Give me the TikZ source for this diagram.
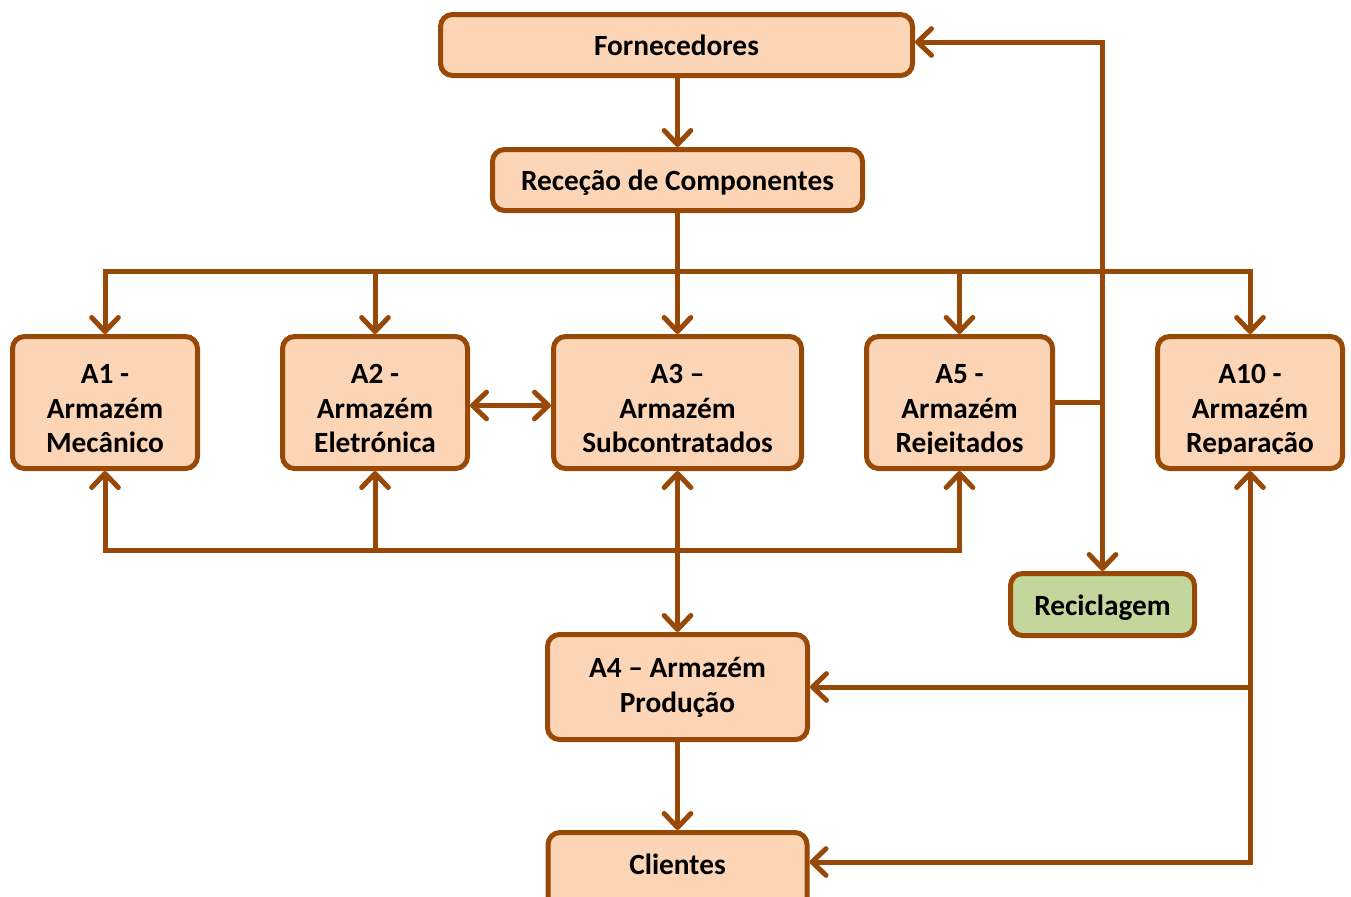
\documentclass[tikz,border=0pt]{standalone}
\usepackage{fontspec}
\setmainfont{Carlito}
\usetikzlibrary{arrows.meta}
\definecolor{edge}{HTML}{984807}
\definecolor{boxfill}{HTML}{FBD5B5}
\definecolor{greenfill}{HTML}{C3D69B}
\begin{document}
\begin{tikzpicture}[x=0.75pt,y=-0.75pt,
  box/.style={draw=edge, line width=3.75pt, fill=boxfill, rounded corners=9pt, inner sep=0pt},
  greenbox/.style={box, fill=greenfill},
  lbl/.style={anchor=base, inner sep=0pt, font=\fontsize{22pt}{26pt}\selectfont\bfseries},
  link/.style={draw=edge, line width=3.75pt},
  tip/.tip={Straight Barb[length=10.5pt,width=20pt,line cap=round,line join=round]},
  arr/.style={link, -tip},
  darr/.style={link, tip-tip},
]
\useasboundingbox (0,0) rectangle (1351,896);

% boxes
\node[box, minimum width=354pt, minimum height=45.75pt] (forn) at (676.5,45) {};
\node[box, minimum width=277.5pt, minimum height=45.75pt] (rec) at (677.5,180) {};
\node[box, minimum width=138.75pt, minimum height=99pt] (a1) at (105,402.5) {};
\node[box, minimum width=138.75pt, minimum height=99pt] (a2) at (375,402.5) {};
\node[box, minimum width=186pt, minimum height=99pt] (a3) at (677.5,402.5) {};
\node[box, minimum width=139.5pt, minimum height=99pt] (a5) at (959.5,402.5) {};
\node[box, minimum width=138.75pt, minimum height=99pt] (a10) at (1250,402.5) {};
\node[greenbox, minimum width=138pt, minimum height=46.5pt] (recic) at (1102.5,604.5) {};
\node[box, minimum width=195pt, minimum height=78.75pt] (a4) at (677.5,687) {};
% the client box runs past the lower edge of the page
\node[box, minimum width=194.25pt, minimum height=60pt] (cli) at (677.5,872.5) {};

% single-line labels
\node[lbl] (fornt) at (676.5,55) {Fornecedores};
\node[lbl] (rect) at (677.5,190) {Receção de Componentes};
\node[lbl] (recict) at (1102.5,615) {Reciclagem};
\node[lbl] (clit) at (677.5,874.5) {Clientes};
\node[lbl] (a4t1) at (677.5,677) {A4 – Armazém};
\node[lbl] (a4t2) at (677.5,712) {Produção};

% three-line labels, cut at the text frame of each box
\coordinate (cutline) at (0,453.5);
\begin{scope}
  \clip (a1.north west) rectangle (a1.east |- cutline);
  \node[lbl] (a1t1) at (105,383.5) {A1 -};
  \node[lbl] (a1t2) at (105,418) {Armazém};
  \node[lbl] (a1t3) at (105,452.5) {Mecânico};
\end{scope}
\begin{scope}
  \clip (a2.north west) rectangle (a2.east |- cutline);
  \node[lbl] (a2t1) at (375,383.5) {A2 -};
  \node[lbl] (a2t2) at (375,418) {Armazém};
  \node[lbl] (a2t3) at (375,452.5) {Eletrónica};
\end{scope}
\begin{scope}
  \clip (a3.north west) rectangle (a3.east |- cutline);
  \node[lbl] (a3t1) at (677.5,383.5) {A3 –};
  \node[lbl] (a3t2) at (677.5,418) {Armazém};
  \node[lbl] (a3t3) at (677.5,452.5) {Subcontratados};
\end{scope}
\begin{scope}
  \clip (a5.north west) rectangle (a5.east |- cutline);
  \node[lbl] (a5t1) at (959.5,383.5) {A5 -};
  \node[lbl] (a5t2) at (959.5,418) {Armazém};
  \node[lbl] (a5t3) at (959.5,452.5) {Rejeitados};
\end{scope}
\begin{scope}
  \clip (a10.north west) rectangle (a10.east |- cutline);
  \node[lbl] (a10t1) at (1250,383.5) {A10 -};
  \node[lbl] (a10t2) at (1250,418) {Armazém};
  \node[lbl] (a10t3) at (1250,452.5) {Reparação};
\end{scope}

% connectors
\coordinate (busT) at (677.5,271);
\coordinate (busB) at (677.5,550);
\coordinate (rc) at (1102,42);
\coordinate (rb) at (1248,862);

\draw[arr] (forn.south -| rec.north) -- (rec.north);
\draw[arr] (rec.south) -- (a3.north);
\draw[arr] (busT) -| (a1.north);
\draw[arr] (busT) -| (a10.north);
\draw[arr] (a2.north |- busT) -- (a2.north);
\draw[arr] (a5.north |- busT) -- (a5.north);

\draw[darr] ([yshift=-2.25pt]a2.east) -- ([yshift=-2.25pt]a3.west);

\draw[arr] (busB) -| (a1.south);
\draw[arr] (busB) -| (a5.south);
\draw[arr] (a2.south |- busB) -- (a2.south);
\draw[darr] (a3.south) -- (a4.north);

\draw[darr] (rc -| forn.east) -| (recic.north);
\draw[link] (a5.east) -- (a5.east -| recic.north);

\draw[darr] (cli.east |- rb) -| (a10.south);
\draw[arr] (a10.south |- a4.east) -- (a4.east);
\draw[arr] (a4.south) -- (cli.north);
\end{tikzpicture}
\end{document}
